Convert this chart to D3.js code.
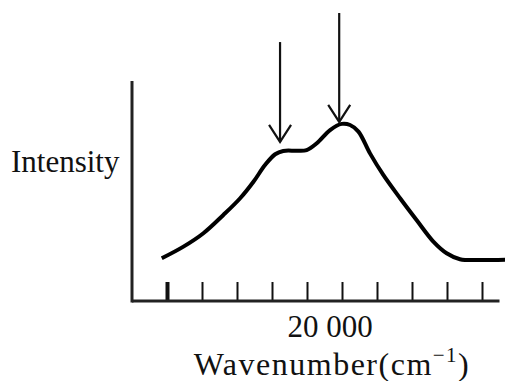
<!DOCTYPE html>
<html>
<head>
<meta charset="utf-8">
<script src="https://cdn.jsdelivr.net/npm/d3@7"></script>
<style>
  body { margin: 0; background: #fff; }
  svg { display: block; }
  .label { font-family: "Liberation Serif", "Times New Roman", serif; fill: #111; }
</style>
</head>
<body>
<script>
//spectrum (wavenumber in cm-1, intensity in arbitrary units)
var waveNums = [14850, 15470, 16040, 16610, 17090, 17470, 17800, 18090, 18320, 18710, 18990, 19280, 19660, 19990, 20230, 20470, 20800, 21180, 21660, 22130, 22610, 22990, 23370, 23940, 24660];
var intensity = [0.194, 0.247, 0.308, 0.391, 0.467, 0.542, 0.618, 0.667, 0.682, 0.683, 0.686, 0.717, 0.777, 0.805, 0.800, 0.770, 0.671, 0.573, 0.467, 0.368, 0.270, 0.217, 0.190, 0.186, 0.188];

//arrows marking the two bands
var arrowWave = [18230, 19920];
var arrowTop = [1.177, 1.309];
var arrowTip = [0.723, 0.814];

//tick marks along the wavenumber axis
var tickValues = [15000, 16000, 17000, 18000, 19000, 20000, 21000, 22000, 23000, 24000];
var tickLabel = "20 000";

var width = 505,
    height = 381;

var svg = d3.select("body")
    .append("svg")
    .attr("width", width)
    .attr("height", height);

//scales
var x = d3.scaleLinear()
    .domain([14000, 24500])
    .range([132, 499.5]);

var y = d3.scaleLinear()
    .domain([0, 1])
    .range([301, 81]);

//x axis with inward ticks
var xAxis = d3.axisTop(x)
    .tickValues(tickValues)
    .tickSize(19)
    .tickFormat("");

var gx = svg.append("g")
    .attr("transform", "translate(0," + y(0) + ")")
    .call(xAxis);

gx.select(".domain").remove();
gx.selectAll(".tick line")
    .attr("stroke", "#111")
    .attr("stroke-width", function(d, i){ return i == 0 ? 4 : 2; });

//axis lines
svg.append("line")
    .attr("x1", x(14000)).attr("x2", x(24500))
    .attr("y1", y(0)).attr("y2", y(0))
    .attr("stroke", "#222")
    .attr("stroke-width", 3);

svg.append("line")
    .attr("x1", x(14000)).attr("x2", x(14000))
    .attr("y1", y(0) + 1.5).attr("y2", y(1))
    .attr("stroke", "#222")
    .attr("stroke-width", 3);

//spectrum curve
var line = d3.line()
    .x(function(d){ return x(d[0]); })
    .y(function(d){ return y(d[1]); })
    .curve(d3.curveCatmullRom.alpha(0.5));

svg.append("path")
    .datum(d3.zip(waveNums, intensity))
    .attr("d", line)
    .attr("fill", "none")
    .attr("stroke", "#000")
    .attr("stroke-width", 4)
    .attr("stroke-linejoin", "round");

//arrows
arrowWave.forEach(function(w, i){
    var ax = x(w),
        tip = y(arrowTip[i]);
    svg.append("line")
        .attr("x1", ax).attr("x2", ax)
        .attr("y1", y(arrowTop[i])).attr("y2", tip)
        .attr("stroke", "#111")
        .attr("stroke-width", 2.2);
    svg.append("path")
        .attr("d", "M" + (ax - 11) + "," + (tip - 17) + "L" + ax + "," + tip + "L" + (ax + 11) + "," + (tip - 17))
        .attr("fill", "none")
        .attr("stroke", "#111")
        .attr("stroke-width", 2.2);
});

//labels
svg.append("text")
    .attr("class", "label")
    .attr("x", 11)
    .attr("y", 172)
    .style("font-size", "31px")
    .text("Intensity");

svg.append("text")
    .attr("class", "label")
    .attr("x", x(20000))
    .attr("dx", -12)
    .attr("y", 337)
    .attr("text-anchor", "middle")
    .style("font-size", "31px")
    .text(tickLabel);

var title = svg.append("text")
    .attr("class", "label")
    .attr("x", 332)
    .attr("y", 375)
    .attr("text-anchor", "middle")
    .style("font-size", "32px")
    .style("letter-spacing", "1.5px");

title.append("tspan").text("Wavenumber(cm");
title.append("tspan")
    .attr("dy", -13)
    .style("font-size", "21px")
    .text("\u22121");
title.append("tspan")
    .attr("dy", 13)
    .text(")");
</script>
</body>
</html>
